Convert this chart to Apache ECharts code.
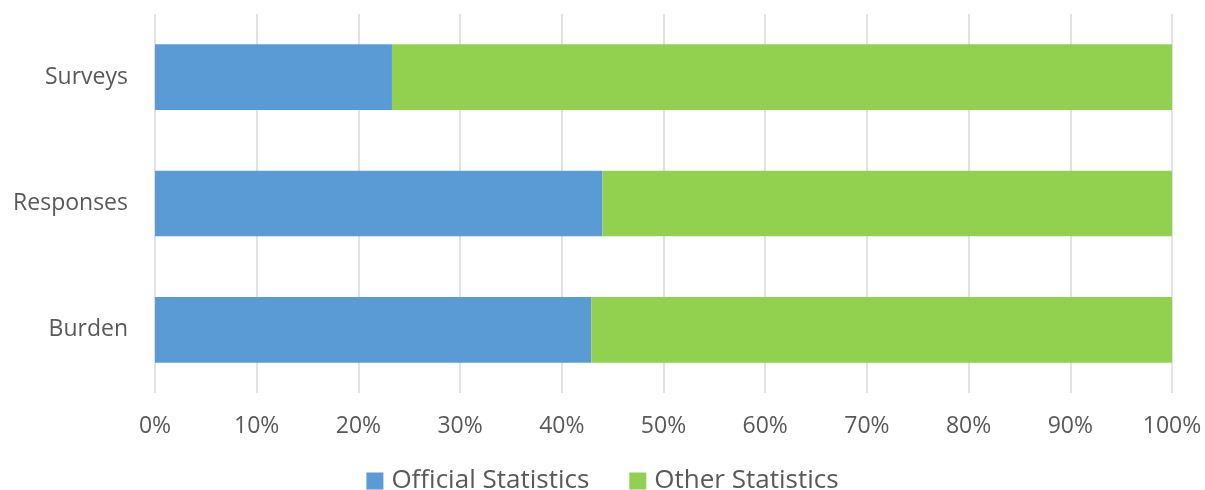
<!DOCTYPE html>
<html>
<head>
<meta charset="utf-8">
<script src="https://cdn.jsdelivr.net/npm/echarts@6/dist/echarts.min.js"></script>
<style>
  html, body { margin: 0; padding: 0; background: #fff; }
  #chart { width: 1205px; height: 490px; }
</style>
</head>
<body>
<div id="chart"></div>
<script>
// Share of surveys, responses and burden by statistics type (percent)
const categories = ['Burden', 'Responses', 'Surveys'];
const officialStats = [42.9, 44.0, 23.3];
const otherStats = [57.1, 56.0, 76.7];
const seriesNames = ['Official Statistics', 'Other Statistics'];
const tickValues = [0, 10, 20, 30, 40, 50, 60, 70, 80, 90, 100];

const font = '"Open Sans", "Liberation Sans", sans-serif';
const textColor = '#595959';

const chart = echarts.init(document.getElementById('chart'));
chart.setOption({
  animation: false,
  textStyle: { fontFamily: font },
  grid: { left: 155, right: 33, top: 14, bottom: 97, containLabel: false },
  legend: {
    top: 468,
    left: 'center',
    padding: 0,
    itemWidth: 17,
    itemHeight: 17,
    itemGap: 40,
    icon: 'rect',
    textStyle: { fontSize: 26, lineHeight: 26, color: textColor, fontFamily: font, padding: [0, 0, 0, 3] },
    data: seriesNames
  },
  xAxis: {
    type: 'value',
    min: tickValues[0],
    max: tickValues[tickValues.length - 1],
    interval: 10,
    axisLine: { show: false },
    axisTick: { show: false },
    splitLine: { show: true, lineStyle: { color: '#d9d9d9', width: 1.5 } },
    axisLabel: {
      margin: 22,
      fontSize: 23,
      color: textColor,
      fontFamily: font,
      formatter: v => v + '%'
    }
  },
  yAxis: {
    type: 'category',
    data: categories,
    axisLine: { show: false },
    axisTick: { show: false },
    splitLine: { show: false },
    axisLabel: { margin: 27, fontSize: 23, color: textColor, fontFamily: font, padding: [3, 0, 0, 0] }
  },
  series: [
    {
      name: seriesNames[0],
      type: 'bar',
      stack: 'total',
      barWidth: '52%',
      itemStyle: { color: '#5b9bd5' },
      data: officialStats
    },
    {
      name: seriesNames[1],
      type: 'bar',
      stack: 'total',
      barWidth: '52%',
      itemStyle: { color: '#92d050' },
      data: otherStats
    }
  ]
});
</script>
</body>
</html>
